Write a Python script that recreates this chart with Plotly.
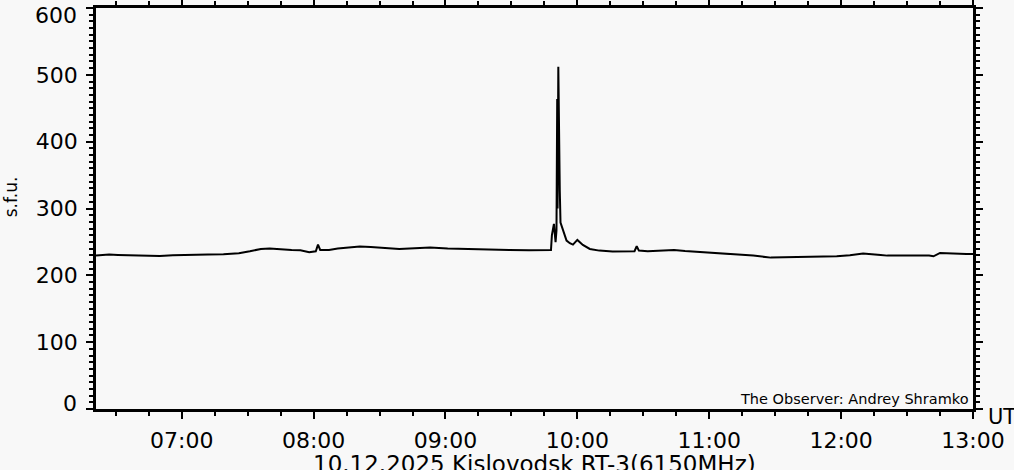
import plotly.graph_objects as go

DAY = "2025-12-10"

# RT-3 6150 MHz flux
times = [
    "06:21:00", "06:27:00", "06:31:00", "06:36:00", "06:41:00", "06:45:00",
    "06:50:00", "06:56:00", "07:04:00", "07:12:00", "07:19:00", "07:26:00",
    "07:31:00", "07:36:00", "07:40:00", "07:45:00", "07:50:00", "07:54:00",
    "07:58:00", "08:01:00", "08:02:00", "08:03:00", "08:07:00", "08:11:00",
    "08:16:00", "08:21:00", "08:26:00", "08:33:00", "08:39:00", "08:46:00",
    "08:53:00", "09:01:00", "09:11:00", "09:20:00", "09:29:00", "09:38:00",
    "09:46:00", "09:48:00", "09:48:25", "09:49:20", "09:50:05", "09:50:30",
    "09:50:50", "09:51:00", "09:51:20", "09:51:40", "09:52:00", "09:52:20",
    "09:53:25", "09:55:05", "09:56:35", "09:58:00", "10:00:00", "10:02:30",
    "10:05:40", "10:10:00", "10:16:00", "10:23:00", "10:26:00", "10:27:00",
    "10:28:00", "10:32:00", "10:38:00", "10:44:00", "10:49:00", "10:54:00",
    "11:00:00", "11:05:00", "11:12:00", "11:20:00", "11:28:00", "11:35:00",
    "11:43:00", "11:50:00", "11:58:00", "12:04:00", "12:10:00", "12:18:00",
    "12:21:00", "12:40:00", "12:42:00", "12:45:00", "12:50:00", "12:57:00",
    "13:00:00",
]
flux = [
    229.5, 231, 230.5, 230, 229.5, 228.5,
    229, 230, 231, 231, 231.5, 233,
    236, 239.5, 240, 238.5, 238, 237.5,
    234.5, 236, 246, 238, 238, 240,
    242, 243, 242.5, 241, 239.5, 240.5,
    241.5, 240, 239, 238.5, 238, 237.5,
    237.5, 238, 260, 277, 249.5, 267,
    464, 300, 512, 380, 327, 279,
    267, 252, 248, 246, 253, 245.5,
    239.5, 237, 235.5, 235.5, 236, 243.5,
    237, 236, 237, 238, 236.5, 235.5,
    234, 233, 231, 229.5, 226.5, 227,
    226.5, 227.5, 228.5, 230, 232.5, 230.5,
    229.5, 229.5, 228.5, 233.5, 232.5, 232,
    232,
]

hour_ticks = ["07:00", "08:00", "09:00", "10:00", "11:00", "12:00", "13:00"]
y_ticks = [0, 100, 200, 300, 400, 500, 600]

BG = "#f8f8f8"
FONT = "DejaVu Sans"

fig = go.Figure()
fig.add_trace(
    go.Scatter(
        x=[f"{DAY} {t}" for t in times],
        y=flux,
        mode="lines",
        line={"color": "black", "width": 2},
        showlegend=False,
    )
)

axis_common = dict(
    showline=True,
    linecolor="black",
    linewidth=2.5,
    mirror="ticks",
    ticks="outside",
    ticklen=7,
    tickwidth=2,
    tickcolor="black",
    showgrid=False,
    zeroline=False,
    automargin=False,
    ticklabeloverflow="allow",
    tickfont={"family": FONT, "size": 22, "color": "black"},
)

# end labels of the y axis are nudged inward (like the original), so draw
# them as annotations and leave the rest to the axis
inner_text = [str(v) if v not in (y_ticks[0], y_ticks[-1]) else "" for v in y_ticks]

end_labels = [
    dict(text=str(v), xref="paper", yref="y", x=-0.019, y=v, xanchor="right",
         yanchor="middle", yshift=shift, showarrow=False,
         font={"family": FONT, "size": 22})
    for v, shift in ((y_ticks[0], 6), (y_ticks[-1], -7))
]

fig.update_layout(
    width=1014,
    height=470,
    paper_bgcolor=BG,
    plot_bgcolor=BG,
    margin={"l": 96, "r": 41, "t": 8, "b": 61, "autoexpand": False},
    font={"family": FONT, "color": "black"},
    xaxis=dict(
        axis_common,
        type="date",
        range=[f"{DAY} 06:21:00", f"{DAY} 13:00:00"],
        tickvals=[f"{DAY} {t}" for t in hour_ticks],
        ticktext=hour_ticks,
        ticklabelstandoff=3,
        minor={"dtick": 15 * 60 * 1000, "ticks": "outside", "ticklen": 4,
               "tickwidth": 2, "tickcolor": "black"},
    ),
    yaxis=dict(
        axis_common,
        range=[0, 600],
        tickvals=y_ticks,
        ticktext=inner_text,
        ticklabelstandoff=4,
        minor={"dtick": 10, "ticks": "outside", "ticklen": 4,
               "tickwidth": 2, "tickcolor": "black"},
    ),
    annotations=end_labels + [
        dict(text="10.12.2025 Kislovodsk RT-3(6150MHz)", xref="paper", yref="paper",
             x=0.5, y=-0.1, xanchor="center", yanchor="top", showarrow=False,
             font={"family": FONT, "size": 23}),
        dict(text="UT", xref="paper", yref="paper", x=1.015, y=-0.02,
             xanchor="left", yanchor="middle", showarrow=False,
             font={"family": FONT, "size": 21}),
        dict(text="s.f.u.", xref="paper", yref="paper", x=-0.096, y=0.53,
             xanchor="center", yanchor="middle", textangle=-90, showarrow=False,
             font={"family": FONT, "size": 17}),
        dict(text="The Observer: Andrey Shramko", xref="paper", yref="paper",
             x=0.998, y=0.025, xanchor="right", yanchor="middle", showarrow=False,
             font={"family": FONT, "size": 14.5}),
    ],
)

# page has a default 8px body margin; drop it so the figure sits at 0,0
fig.write_html(
    "out.html",
    config={"displayModeBar": False},
    post_script="document.body.style.margin='0';",
)
